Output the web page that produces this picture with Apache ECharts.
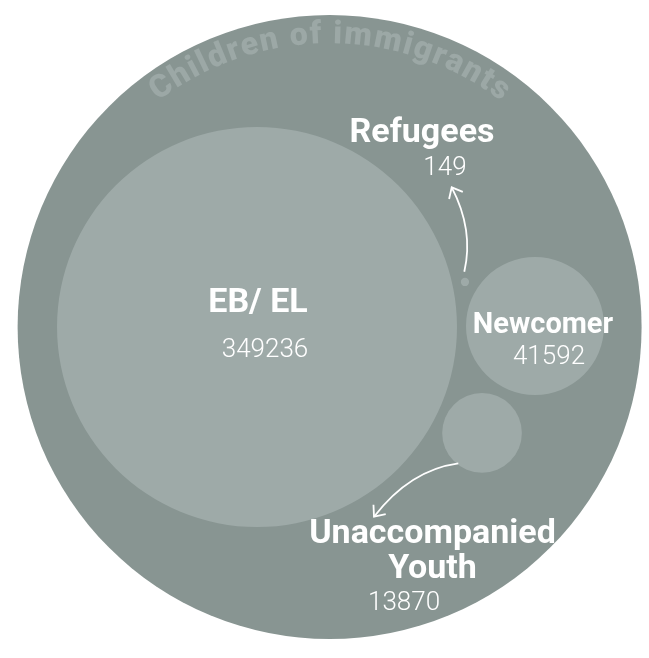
<!DOCTYPE html>
<html>
<head>
<meta charset="utf-8">
<script src="https://cdn.jsdelivr.net/npm/echarts@6/dist/echarts.min.js"></script>
<style>
  html, body { margin: 0; padding: 0; background: #ffffff; }
  #chart { width: 649px; height: 658px; }
</style>
</head>
<body>
<div id="chart"></div>
<script>
// ---- data -------------------------------------------------------------
const groups = ['Children of immigrants', 'EB/ EL', 'Newcomer', 'Unaccompanied\nYouth', 'Refugees'];
const counts = [850000, 349236, 41592, 13870, 149];
const countLabels = ['', '349236', '41592', '13870', '149'];

// ---- layout (units of sqrt(count); origin = centre of the outer circle) --
const centerX = [0, -214.5, 607, 450.4, 400];
const centerY = [0, 0, 3, -313, 133];
const nameAt = [null, [-211.6, 70.9], [630.6, 3.0], [304.1, -664.3], [273.0, 573.2]];
const countAt = [null, [-190.9, -68.0], [648.3, -91.6], [219.9, -815.6], [341.0, 468.3]];
// curved arrows: start, control point, tip
const arrows = [
  { from: [398.0, 163.4], via: [426.7, 286.6], to: [360.8, 412.8] },
  { from: [380.3, -402.8], via: [237.0, -422.6], to: [131.2, -560.6] }
];
const titleRadius = 830;   // baseline radius of the arched title

// ---- style ------------------------------------------------------------
const OUTER = '#889592';
const INNER = '#9eaaa8';
const TITLE = '#9ca8a6';
const nameSizes = [0, 34, 29, 34, 34];
const FONT = 'Roboto, "Noto Sans", sans-serif';

const R = Math.sqrt(counts[0]);

function renderBubble(params, api) {
  const i = params.dataIndex;
  const c = api.coord([api.value(0), api.value(1)]);
  const r = api.size([Math.sqrt(api.value(2)), 0])[0];
  return {
    type: 'circle',
    shape: { cx: c[0], cy: c[1], r: r },
    style: { fill: i === 0 ? OUTER : INNER }
  };
}

function renderLabels(params, api) {
  const i = params.dataIndex;
  if (!nameAt[i]) return { type: 'group', children: [] };
  const n = api.coord(nameAt[i]);
  const v = api.coord(countAt[i]);
  return {
    type: 'group',
    children: [
      {
        type: 'text', x: n[0], y: n[1],
        style: {
          text: groups[i], fill: '#ffffff', fontFamily: FONT, fontWeight: 700,
          fontSize: nameSizes[i], lineHeight: 35.6, align: 'center', verticalAlign: 'middle'
        }
      },
      {
        type: 'text', x: v[0], y: v[1],
        style: {
          text: countLabels[i], fill: '#ffffff', fontFamily: FONT, fontWeight: 300,
          fontSize: 26, align: 'center', verticalAlign: 'middle'
        }
      }
    ]
  };
}

// arched title along the top of the outer circle, plus the two arrows
const measureCtx = document.createElement('canvas').getContext('2d');
function renderTitle(params, api) {
  const c = api.coord([0, 0]);
  const rb = api.size([titleRadius, 0])[0];
  const fs = 32, spacing = 1.5;
  measureCtx.font = '900 ' + fs + 'px ' + FONT;
  const chars = Array.from(groups[0]);
  const widths = chars.map(ch => measureCtx.measureText(ch).width);
  const total = widths.reduce((a, b) => a + b, 0) + spacing * (chars.length - 1);
  const rm = rb + 0.34 * fs;
  let s = -total / 2;
  const children = [];
  chars.forEach((ch, k) => {
    const mid = s + widths[k] / 2;
    const th = mid / rb;
    children.push({
      type: 'text',
      x: c[0] + rm * Math.sin(th),
      y: c[1] - rm * Math.cos(th),
      rotation: -th,
      style: {
        text: ch, fill: TITLE, fontFamily: FONT, fontWeight: 900, fontSize: fs,
        align: 'center', verticalAlign: 'middle'
      }
    });
    s += widths[k] + spacing;
  });

  arrows.forEach(a => {
    const p0 = api.coord(a.from), cp = api.coord(a.via), p2 = api.coord(a.to);
    children.push({
      type: 'bezierCurve',
      shape: { x1: p0[0], y1: p0[1], cpx1: cp[0], cpy1: cp[1], x2: p2[0], y2: p2[1] },
      style: { stroke: '#ffffff', lineWidth: 1.8, fill: null }
    });
    let dx = p2[0] - cp[0], dy = p2[1] - cp[1];
    const len = Math.hypot(dx, dy);
    dx = -dx / len; dy = -dy / len;
    const al = 40 * Math.PI / 180, L = 12;
    const arm = sgn => [
      p2[0] + L * (dx * Math.cos(sgn * al) - dy * Math.sin(sgn * al)),
      p2[1] + L * (dx * Math.sin(sgn * al) + dy * Math.cos(sgn * al))
    ];
    children.push({
      type: 'polyline',
      shape: { points: [arm(1), p2, arm(-1)] },
      style: { stroke: '#ffffff', lineWidth: 1.8, fill: null }
    });
  });
  return { type: 'group', children: children };
}

const bubbleData = counts.map((v, i) => [centerX[i], centerY[i], v]);

const chart = echarts.init(document.getElementById('chart'), null, { renderer: 'canvas' });
chart.setOption({
  animation: false,
  grid: { left: 17.6, top: 15, width: 624, height: 624 },
  xAxis: { type: 'value', min: -R, max: R, show: false },
  yAxis: { type: 'value', min: -R, max: R, show: false },
  series: [
    { type: 'custom', renderItem: renderBubble, data: bubbleData, z: 1, silent: true },
    { type: 'custom', renderItem: renderTitle, data: [[0, 0]], z: 2, silent: true },
    { type: 'custom', renderItem: renderLabels, data: bubbleData, z: 3, silent: true }
  ]
});
</script>
</body>
</html>
